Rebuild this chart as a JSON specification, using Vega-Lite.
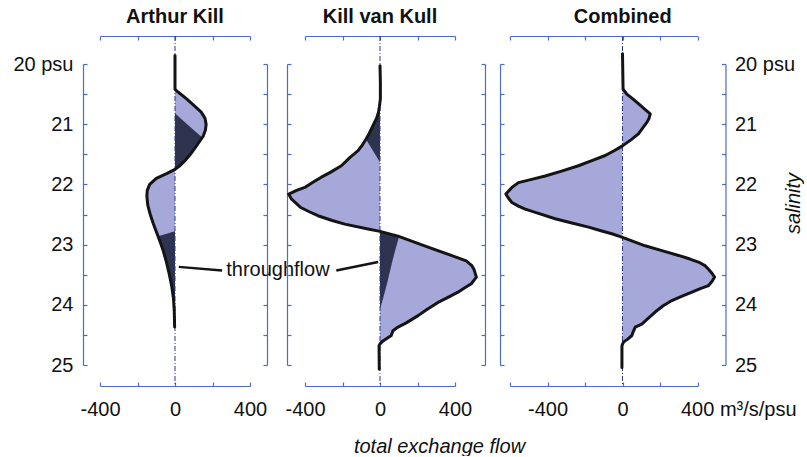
{
  "$schema": "https://vega.github.io/schema/vega-lite/v6.json",
  "background": "white",
  "padding": {"left": 12, "top": 7, "right": 0, "bottom": 0},
  "spacing": 55,
  "bounds": "flush",
  "config": {
    "view": {"stroke": null},
    "font": "Liberation Sans",
    "axis": {
      "grid": false,
      "domainColor": "#4e6bc9",
      "domainWidth": 1.2,
      "tickColor": "#4e6bc9",
      "tickWidth": 1.2,
      "tickSize": -4,
      "labelFont": "Liberation Sans",
      "labelFontSize": 20,
      "labelColor": "#111111",
      "labelFlush": false,
      "labelOverlap": false,
      "titleFont": "Liberation Sans",
      "titleFontSize": 20,
      "titleFontWeight": "normal",
      "titleFontStyle": "italic",
      "titleColor": "#111111"
    },
    "title": {
      "font": "Liberation Sans",
      "fontSize": 20,
      "fontWeight": "bold",
      "color": "#111111",
      "frame": "group",
      "anchor": "middle",
      "offset": 8
    }
  },
  "datasets": {
    "ak": [
      {"salinity": 19.86, "flow": 0},
      {"salinity": 20.42, "flow": 0},
      {"salinity": 20.47, "flow": 18},
      {"salinity": 20.58, "flow": 62},
      {"salinity": 20.70, "flow": 105},
      {"salinity": 20.80, "flow": 140},
      {"salinity": 20.90, "flow": 160},
      {"salinity": 21.00, "flow": 166},
      {"salinity": 21.10, "flow": 162},
      {"salinity": 21.20, "flow": 150},
      {"salinity": 21.30, "flow": 128},
      {"salinity": 21.40, "flow": 105},
      {"salinity": 21.50, "flow": 82},
      {"salinity": 21.60, "flow": 55},
      {"salinity": 21.70, "flow": 22},
      {"salinity": 21.75, "flow": 0},
      {"salinity": 21.82, "flow": -45},
      {"salinity": 21.90, "flow": -100},
      {"salinity": 22.00, "flow": -135},
      {"salinity": 22.10, "flow": -148},
      {"salinity": 22.20, "flow": -150},
      {"salinity": 22.35, "flow": -145},
      {"salinity": 22.50, "flow": -132},
      {"salinity": 22.65, "flow": -116},
      {"salinity": 22.80, "flow": -98},
      {"salinity": 22.95, "flow": -80},
      {"salinity": 23.10, "flow": -63},
      {"salinity": 23.30, "flow": -45},
      {"salinity": 23.50, "flow": -30},
      {"salinity": 23.70, "flow": -17},
      {"salinity": 23.90, "flow": -8},
      {"salinity": 24.10, "flow": -4},
      {"salinity": 24.37, "flow": -2}
    ],
    "ak_through": [
      {"lobe": "a", "salinity": 20.82, "flow": 0},
      {"lobe": "a", "salinity": 20.90, "flow": 29},
      {"lobe": "a", "salinity": 21.00, "flow": 65},
      {"lobe": "a", "salinity": 21.10, "flow": 101},
      {"lobe": "a", "salinity": 21.22, "flow": 145},
      {"lobe": "a", "salinity": 21.30, "flow": 128},
      {"lobe": "a", "salinity": 21.40, "flow": 105},
      {"lobe": "a", "salinity": 21.50, "flow": 82},
      {"lobe": "a", "salinity": 21.60, "flow": 55},
      {"lobe": "a", "salinity": 21.70, "flow": 22},
      {"lobe": "a", "salinity": 21.75, "flow": 0},
      {"lobe": "b", "salinity": 22.78, "flow": 0},
      {"lobe": "b", "salinity": 22.86, "flow": -90},
      {"lobe": "b", "salinity": 22.95, "flow": -80},
      {"lobe": "b", "salinity": 23.10, "flow": -63},
      {"lobe": "b", "salinity": 23.30, "flow": -45},
      {"lobe": "b", "salinity": 23.50, "flow": -30},
      {"lobe": "b", "salinity": 23.70, "flow": -17},
      {"lobe": "b", "salinity": 23.90, "flow": -8},
      {"lobe": "b", "salinity": 24.10, "flow": -4},
      {"lobe": "b", "salinity": 24.37, "flow": -2}
    ],
    "kvk": [
      {"salinity": 20.03, "flow": 0},
      {"salinity": 20.30, "flow": 2},
      {"salinity": 20.58, "flow": 2},
      {"salinity": 20.70, "flow": -3},
      {"salinity": 20.80, "flow": -8},
      {"salinity": 20.90, "flow": -18},
      {"salinity": 21.02, "flow": -37},
      {"salinity": 21.15, "flow": -57},
      {"salinity": 21.25, "flow": -75},
      {"salinity": 21.35, "flow": -95},
      {"salinity": 21.44, "flow": -117},
      {"salinity": 21.55, "flow": -160},
      {"salinity": 21.69, "flow": -206},
      {"salinity": 21.80, "flow": -265},
      {"salinity": 21.88, "flow": -313},
      {"salinity": 21.97, "flow": -360},
      {"salinity": 22.05, "flow": -401},
      {"salinity": 22.10, "flow": -445},
      {"salinity": 22.16, "flow": -487},
      {"salinity": 22.24, "flow": -473},
      {"salinity": 22.31, "flow": -448},
      {"salinity": 22.38, "flow": -425},
      {"salinity": 22.45, "flow": -380},
      {"salinity": 22.52, "flow": -331},
      {"salinity": 22.60, "flow": -255},
      {"salinity": 22.66, "flow": -188},
      {"salinity": 22.74, "flow": -64},
      {"salinity": 22.78, "flow": 0},
      {"salinity": 22.86, "flow": 96},
      {"salinity": 23.02, "flow": 238},
      {"salinity": 23.18, "flow": 380},
      {"salinity": 23.27, "flow": 460},
      {"salinity": 23.35, "flow": 490},
      {"salinity": 23.41, "flow": 501},
      {"salinity": 23.54, "flow": 514},
      {"salinity": 23.65, "flow": 487},
      {"salinity": 23.72, "flow": 450},
      {"salinity": 23.79, "flow": 416},
      {"salinity": 23.88, "flow": 360},
      {"salinity": 23.96, "flow": 309},
      {"salinity": 24.08, "flow": 250},
      {"salinity": 24.18, "flow": 203},
      {"salinity": 24.30, "flow": 140},
      {"salinity": 24.37, "flow": 96},
      {"salinity": 24.43, "flow": 69},
      {"salinity": 24.51, "flow": 60},
      {"salinity": 24.60, "flow": 16},
      {"salinity": 24.65, "flow": 0},
      {"salinity": 24.68, "flow": -5},
      {"salinity": 25.07, "flow": -4}
    ],
    "kvk_through": [
      {"lobe": "a", "salinity": 20.60, "flow": 0},
      {"lobe": "a", "salinity": 20.70, "flow": -3},
      {"lobe": "a", "salinity": 20.80, "flow": -8},
      {"lobe": "a", "salinity": 20.90, "flow": -18},
      {"lobe": "a", "salinity": 21.02, "flow": -37},
      {"lobe": "a", "salinity": 21.15, "flow": -57},
      {"lobe": "a", "salinity": 21.25, "flow": -75},
      {"lobe": "a", "salinity": 21.63, "flow": 0},
      {"lobe": "b", "salinity": 22.78, "flow": 0},
      {"lobe": "b", "salinity": 22.86, "flow": 96},
      {"lobe": "b", "salinity": 22.88, "flow": 100},
      {"lobe": "b", "salinity": 23.13, "flow": 78},
      {"lobe": "b", "salinity": 23.35, "flow": 60},
      {"lobe": "b", "salinity": 23.63, "flow": 39},
      {"lobe": "b", "salinity": 23.90, "flow": 16},
      {"lobe": "b", "salinity": 24.07, "flow": 0}
    ],
    "combined": [
      {"salinity": 19.83, "flow": 0},
      {"salinity": 20.42, "flow": 3},
      {"salinity": 20.50, "flow": 23},
      {"salinity": 20.58, "flow": 55},
      {"salinity": 20.66, "flow": 85},
      {"salinity": 20.75, "flow": 118},
      {"salinity": 20.83, "flow": 148},
      {"salinity": 20.90, "flow": 142},
      {"salinity": 20.97, "flow": 130},
      {"salinity": 21.06, "flow": 108},
      {"salinity": 21.16, "flow": 85},
      {"salinity": 21.26, "flow": 45},
      {"salinity": 21.36, "flow": 0},
      {"salinity": 21.44, "flow": -45},
      {"salinity": 21.52, "flow": -92},
      {"salinity": 21.60, "flow": -160},
      {"salinity": 21.69, "flow": -235},
      {"salinity": 21.78, "flow": -325},
      {"salinity": 21.86, "flow": -412},
      {"salinity": 21.92, "flow": -490},
      {"salinity": 21.97, "flow": -555},
      {"salinity": 22.05, "flow": -590},
      {"salinity": 22.16, "flow": -622},
      {"salinity": 22.23, "flow": -608},
      {"salinity": 22.30, "flow": -590},
      {"salinity": 22.36, "flow": -555},
      {"salinity": 22.41, "flow": -519},
      {"salinity": 22.49, "flow": -440},
      {"salinity": 22.57, "flow": -359},
      {"salinity": 22.64, "flow": -270},
      {"salinity": 22.71, "flow": -181},
      {"salinity": 22.77, "flow": -115},
      {"salinity": 22.82, "flow": -57},
      {"salinity": 22.88, "flow": 0},
      {"salinity": 22.95, "flow": 60},
      {"salinity": 23.02, "flow": 121},
      {"salinity": 23.10, "flow": 210},
      {"salinity": 23.18, "flow": 299},
      {"salinity": 23.24, "flow": 360},
      {"salinity": 23.29, "flow": 405},
      {"salinity": 23.35, "flow": 440},
      {"salinity": 23.41, "flow": 459},
      {"salinity": 23.48, "flow": 478},
      {"salinity": 23.54, "flow": 491},
      {"salinity": 23.61, "flow": 478},
      {"salinity": 23.68, "flow": 459},
      {"salinity": 23.73, "flow": 415},
      {"salinity": 23.79, "flow": 370},
      {"salinity": 23.86, "flow": 315},
      {"salinity": 23.93, "flow": 263},
      {"salinity": 24.02, "flow": 215},
      {"salinity": 24.12, "flow": 174},
      {"salinity": 24.22, "flow": 138},
      {"salinity": 24.32, "flow": 103},
      {"salinity": 24.37, "flow": 68},
      {"salinity": 24.44, "flow": 58},
      {"salinity": 24.51, "flow": 50},
      {"salinity": 24.57, "flow": 28},
      {"salinity": 24.62, "flow": 5},
      {"salinity": 24.68, "flow": -3},
      {"salinity": 25.04, "flow": -3}
    ],
    "label_ak": [
      {"text": "throughflow", "flow": 549, "salinity": 23.52}
    ],
    "leader_ak": [
      {"flow": 20, "salinity": 23.37, "flow_end": 251, "salinity_end": 23.43}
    ],
    "leader_kvk": [
      {"flow": -233, "salinity": 23.43, "flow_end": -10, "salinity_end": 23.29}
    ]
  },
  "hconcat": [
    {
      "width": 150,
      "height": 301,
      "title": {"text": "Arthur Kill"},
      "resolve": {"axis": {"x": "independent", "y": "independent"}},
      "layer": [
        {
          "data": {"name": "ak"},
          "mark": {"type": "area", "orient": "horizontal", "color": "#a5a8d8"},
          "encoding": {
            "x": {"field": "flow", "type": "quantitative", "stack": null,
                  "scale": {"domain": [-400, 400], "nice": false, "zero": false},
                  "axis": {"orient": "bottom", "offset": 21, "title": null, "values": [-400, -200, 0, 200, 400],
                           "labelPadding": 17, "labelExpr": "datum.value % 400 === 0 ? '' + datum.value : ''"}},
            "x2": {"datum": 0},
            "y": {"field": "salinity", "type": "quantitative",
                  "scale": {"domain": [20, 25], "reverse": true, "nice": false, "zero": false},
                  "axis": {"orient": "left", "offset": 17, "title": null, "values": [20, 20.5, 21, 21.5, 22, 22.5, 23, 23.5, 24, 24.5, 25],
                           "labelPadding": 14, "labelExpr": "datum.value === 20 ? '20 psu' : (datum.value % 1 === 0 ? '' + datum.value : '')"}}
          }
        },
        {
          "data": {"name": "ak_through"},
          "mark": {"type": "area", "orient": "horizontal", "color": "#2e3350"},
          "encoding": {
            "x": {"field": "flow", "type": "quantitative", "stack": null, "axis": null},
            "x2": {"datum": 0},
            "y": {"field": "salinity", "type": "quantitative", "axis": null},
            "detail": {"field": "lobe"}
          }
        },
        {
          "data": {"values": [{}]},
          "mark": {"type": "rule", "color": "#2a3a8a", "strokeWidth": 1, "strokeDash": [5, 2, 1, 2]},
          "encoding": {
            "x": {"datum": 0, "axis": null},
            "y": {"datum": 19.535, "axis": null},
            "y2": {"datum": 25.35}
          }
        },
        {
          "data": {"name": "ak"},
          "mark": {"type": "line", "color": "#141414", "strokeWidth": 3, "strokeJoin": "round", "strokeCap": "round"},
          "encoding": {
            "x": {"field": "flow", "type": "quantitative",
                  "axis": {"orient": "top", "offset": 28, "title": null, "labels": false, "values": [-400, -200, 0, 200, 400]}},
            "y": {"field": "salinity", "type": "quantitative",
                  "axis": {"orient": "right", "offset": 17, "title": null, "labels": false, "values": [20, 20.5, 21, 21.5, 22, 22.5, 23, 23.5, 24, 24.5, 25]}},
            "order": {"field": "salinity", "type": "quantitative"}
          }
        },
        {
          "data": {"name": "leader_ak"},
          "mark": {"type": "rule", "color": "#141414", "strokeWidth": 2.5},
          "encoding": {
            "x": {"field": "flow", "type": "quantitative", "axis": null},
            "x2": {"field": "flow_end"},
            "y": {"field": "salinity", "type": "quantitative", "axis": null},
            "y2": {"field": "salinity_end"}
          }
        },
        {
          "data": {"name": "label_ak"},
          "mark": {"type": "text", "font": "Liberation Sans", "fontSize": 20, "color": "#111111", "align": "center", "baseline": "alphabetic"},
          "encoding": {
            "x": {"field": "flow", "type": "quantitative", "axis": null},
            "y": {"field": "salinity", "type": "quantitative", "axis": null},
            "text": {"field": "text"}
          }
        }
      ]
    },
    {
      "width": 150,
      "height": 301,
      "title": {"text": "Kill van Kull"},
      "resolve": {"axis": {"x": "independent", "y": "independent"}},
      "layer": [
        {
          "data": {"name": "kvk"},
          "mark": {"type": "area", "orient": "horizontal", "color": "#a5a8d8"},
          "encoding": {
            "x": {"field": "flow", "type": "quantitative", "stack": null,
                  "scale": {"domain": [-400, 400], "nice": false, "zero": false},
                  "axis": {"orient": "bottom", "offset": 21, "values": [-400, -200, 0, 200, 400],
                           "labelPadding": 17, "labelExpr": "datum.value % 400 === 0 ? '' + datum.value : ''",
                           "title": "total exchange flow", "titleX": 134, "titleY": 66, "titleAlign": "center", "titleBaseline": "alphabetic"}},
            "x2": {"datum": 0},
            "y": {"field": "salinity", "type": "quantitative",
                  "scale": {"domain": [20, 25], "reverse": true, "nice": false, "zero": false},
                  "axis": {"orient": "left", "offset": 18, "title": null, "labels": false, "values": [20, 20.5, 21, 21.5, 22, 22.5, 23, 23.5, 24, 24.5, 25]}}
          }
        },
        {
          "data": {"name": "kvk_through"},
          "mark": {"type": "area", "orient": "horizontal", "color": "#2e3350"},
          "encoding": {
            "x": {"field": "flow", "type": "quantitative", "stack": null, "axis": null},
            "x2": {"datum": 0},
            "y": {"field": "salinity", "type": "quantitative", "axis": null},
            "detail": {"field": "lobe"}
          }
        },
        {
          "data": {"values": [{}]},
          "mark": {"type": "rule", "color": "#2a3a8a", "strokeWidth": 1, "strokeDash": [5, 2, 1, 2]},
          "encoding": {
            "x": {"datum": 0, "axis": null},
            "y": {"datum": 19.535, "axis": null},
            "y2": {"datum": 25.35}
          }
        },
        {
          "data": {"name": "kvk"},
          "mark": {"type": "line", "color": "#141414", "strokeWidth": 3, "strokeJoin": "round", "strokeCap": "round"},
          "encoding": {
            "x": {"field": "flow", "type": "quantitative",
                  "axis": {"orient": "top", "offset": 28, "title": null, "labels": false, "values": [-400, -200, 0, 200, 400]}},
            "y": {"field": "salinity", "type": "quantitative",
                  "axis": {"orient": "right", "offset": 30, "title": null, "labels": false, "values": [20, 20.5, 21, 21.5, 22, 22.5, 23, 23.5, 24, 24.5, 25]}},
            "order": {"field": "salinity", "type": "quantitative"}
          }
        },
        {
          "data": {"name": "leader_kvk"},
          "mark": {"type": "rule", "color": "#141414", "strokeWidth": 2.5},
          "encoding": {
            "x": {"field": "flow", "type": "quantitative", "axis": null},
            "x2": {"field": "flow_end"},
            "y": {"field": "salinity", "type": "quantitative", "axis": null},
            "y2": {"field": "salinity_end"}
          }
        }
      ]
    },
    {
      "width": 187.5,
      "height": 301,
      "title": {"text": "Combined", "dx": 19},
      "resolve": {"axis": {"x": "independent", "y": "independent"}},
      "layer": [
        {
          "data": {"name": "combined"},
          "mark": {"type": "area", "orient": "horizontal", "color": "#a5a8d8"},
          "encoding": {
            "x": {"field": "flow", "type": "quantitative", "stack": null,
                  "scale": {"domain": [-600, 400], "nice": false, "zero": false},
                  "axis": {"orient": "bottom", "offset": 21, "title": null, "values": [-600, -400, -200, 0, 200, 400],
                           "labelPadding": 17,
                           "labelExpr": "datum.value === 400 ? '400 m³/s/psu' : (datum.value === -400 || datum.value === 0 ? '' + datum.value : '')",
                           "labelAlign": {"condition": {"test": "datum.value === 400", "value": "left"}, "value": "center"},
                           "labelOffset": {"condition": {"test": "datum.value === 400", "value": -17}, "value": 0}}},
            "x2": {"datum": 0},
            "y": {"field": "salinity", "type": "quantitative",
                  "scale": {"domain": [20, 25], "reverse": true, "nice": false, "zero": false},
                  "axis": {"orient": "left", "offset": 10, "title": null, "labels": false, "values": [20, 20.5, 21, 21.5, 22, 22.5, 23, 23.5, 24, 24.5, 25]}}
          }
        },
        {
          "data": {"values": [{}]},
          "mark": {"type": "rule", "color": "#2a3a8a", "strokeWidth": 1, "strokeDash": [5, 2, 1, 2]},
          "encoding": {
            "x": {"datum": 0, "axis": null},
            "y": {"datum": 19.535, "axis": null},
            "y2": {"datum": 25.35}
          }
        },
        {
          "data": {"name": "combined"},
          "mark": {"type": "line", "color": "#141414", "strokeWidth": 3, "strokeJoin": "round", "strokeCap": "round"},
          "encoding": {
            "x": {"field": "flow", "type": "quantitative",
                  "axis": {"orient": "top", "offset": 28, "title": null, "labels": false, "values": [-600, -400, -200, 0, 200, 400]}},
            "y": {"field": "salinity", "type": "quantitative",
                  "axis": {"orient": "right", "offset": 28, "values": [20, 20.5, 21, 21.5, 22, 22.5, 23, 23.5, 24, 24.5, 25],
                           "labelPadding": 13,
                           "labelExpr": "datum.value === 20 ? '20 psu' : (datum.value % 1 === 0 ? '' + datum.value : '')",
                           "title": "salinity", "titleAngle": 270, "titleX": 68, "titleY": 139, "titleAlign": "center", "titleBaseline": "middle"}},
            "order": {"field": "salinity", "type": "quantitative"}
          }
        }
      ]
    }
  ]
}
